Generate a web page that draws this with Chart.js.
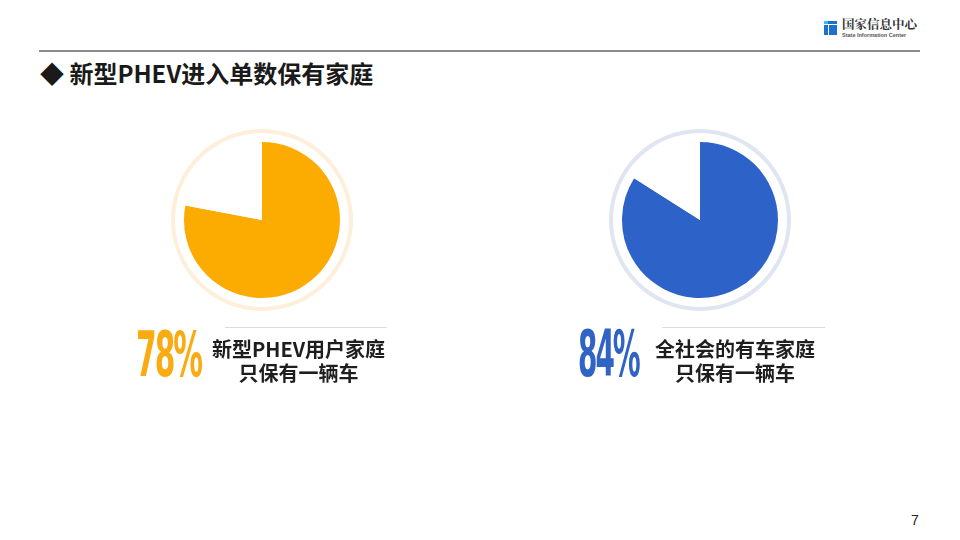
<!DOCTYPE html>
<html>
<head>
<meta charset="utf-8">
<script src="https://cdn.jsdelivr.net/npm/chart.js@4"></script>
<style>
  html, body { margin: 0; padding: 0; background: #fff; }
  body { width: 960px; height: 540px; position: relative; overflow: hidden;
         font-family: "Noto Sans CJK SC", "Noto Sans", sans-serif; color: #222; }
  .abs { position: absolute; }
  .rule { position: absolute; background: #8c8c8c; }
  .title { left: 40px; top: 57px; font-size: 24px; font-weight: bold; line-height: 32px; color: #1a1a1a; }
  .pct { font-family: "DejaVu Sans Condensed", "Liberation Sans Narrow", sans-serif;
         font-weight: bold; line-height: 1; letter-spacing: -2px; transform-origin: 0 0; white-space: nowrap; }
  .desc { font-size: 20px; font-weight: bold; line-height: 24px; text-align: center; color: #1e1e1e;
          white-space: nowrap; }
  .sep { position: absolute; height: 1px; background: #dcdcdc; }
  canvas { position: absolute; }
</style>
</head>
<body>

<!-- header -->
<div class="rule" style="left:39px; top:50px; width:881px; height:2px;"></div>
<div class="abs" style="left:824px; top:21px; width:13px; height:14px; background:#1f6fd1;">
  <div class="abs" style="left:0; top:3px; width:13px; height:1px; background:#fff;"></div>
  <div class="abs" style="left:4px; top:3px; width:1px; height:11px; background:#fff;"></div>
  <div class="abs" style="left:0; top:0; width:4px; height:3px; background:#36c0f0;"></div>
</div>
<div class="abs" style="left:842px; top:17px; font-size:12.5px; font-weight:bold; font-family:'Noto Serif CJK SC','Noto Sans CJK SC',serif; color:#333; line-height:15px;">国家信息中心</div>
<div class="abs" style="left:842px; top:32px; font-size:5.5px; font-weight:bold; color:#555; line-height:7px; font-family:'Liberation Sans',sans-serif;">State Information Center</div>

<div class="abs title">◆ 新型PHEV进入单数保有家庭</div>

<!-- charts -->
<canvas id="phevPie" width="200" height="200" style="left:162px; top:120px;"></canvas>
<canvas id="allPie" width="200" height="200" style="left:600px; top:120px;"></canvas>

<!-- labels -->
<div class="sep" style="left:225px; top:327px; width:162px;"></div>
<div class="sep" style="left:662px; top:327px; width:163px;"></div>

<div class="abs pct" id="phevPct" style="left:136px; top:323px; font-size:33px; transform:scaleY(1.91); color:#fbab12;"></div>
<div class="abs pct" id="allPct" style="left:578px; top:323px; font-size:31px; transform:scaleY(2.04); color:#2f63c6;"></div>

<div class="abs desc" id="phevDesc" style="left:209px; top:337px; width:179px;"></div>
<div class="abs desc" id="allDesc" style="left:653px; top:337px; width:164px;"></div>

<div class="abs" style="left:911px; top:512px; font-size:14px; color:#222; font-family:'Liberation Sans',sans-serif;">7</div>

<script>
(function () {
    "use strict";

    // Data
    var sliceLabels = ['只保有一辆车', '其他'];
    var phevShare = [78, 22];
    var allShare = [84, 16];
    var phevText = ['新型PHEV用户家庭', '只保有一辆车'];
    var allText = ['全社会的有车家庭', '只保有一辆车'];

    // Colours
    var orange = '#fcac00';
    var blue = '#2d63c8';

    function makePie(id, values, color, ringColor) {
        var ctx = document.getElementById(id).getContext('2d');
        return new Chart(ctx, {
            type: 'pie',
            data: {
                labels: sliceLabels,
                datasets: [
                    // thin outer ring
                    { data: [1], backgroundColor: [ringColor], borderWidth: 0, weight: 4 },
                    // gap between ring and pie
                    { data: [1], backgroundColor: ['rgba(0,0,0,0)'], borderWidth: 0, weight: 9 },
                    // the share
                    { data: values, backgroundColor: [color, '#ffffff'], borderWidth: 0, weight: 78 }
                ]
            },
            options: {
                responsive: false,
                animation: false,
                events: [],
                layout: { padding: 9 },
                plugins: {
                    legend: { display: false },
                    tooltip: { enabled: false }
                }
            }
        });
    }

    makePie('phevPie', phevShare, orange, '#fdefd9');
    makePie('allPie', allShare, blue, '#dfe5f1');

    document.getElementById('phevPct').textContent = phevShare[0] + '%';
    document.getElementById('allPct').textContent = allShare[0] + '%';
    document.getElementById('phevDesc').innerHTML = phevText.join('<br>');
    document.getElementById('allDesc').innerHTML = allText.join('<br>');

})();
</script>
</body>
</html>
